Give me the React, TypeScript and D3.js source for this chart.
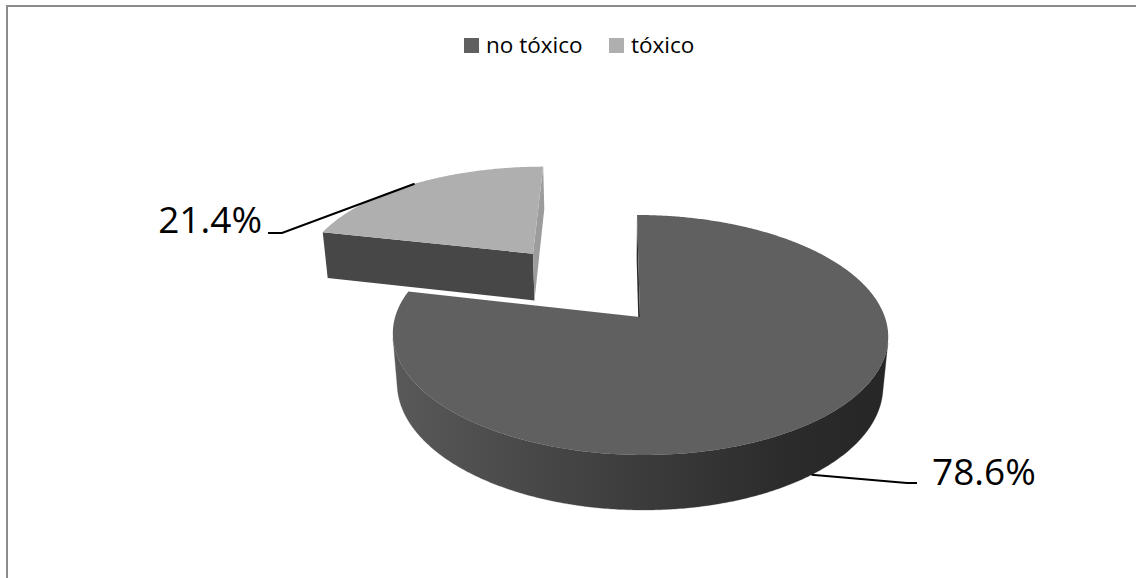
import React from "react";
import * as d3 from "d3";

// Chart data
const categories = ["no tóxico", "tóxico"];
const shares = [78.6, 21.4];
const valueLabels = ["78.6%", "21.4%"];
const sliceColors = ["#606060", "#afafaf"];
const explodeBy = [0, 0.75];

const W = 1136;
const H = 578;

// Simple perspective camera for the 3‑D pie (unit radius, y up, z away from viewer)
const CX = 640;
const CY = 317;
const SIN_E = 0.479;
const COS_E = Math.sqrt(1 - SIN_E * SIN_E);
const DIST = 5.86;
const FOCAL = 1435;
const CAM_X = 0.094;
const THICK = 0.235;

type P2 = [number, number];

function project(x: number, y: number, z: number): P2 {
  const yc = y * COS_E + z * SIN_E;
  const zc = -y * SIN_E + z * COS_E;
  const k = FOCAL / (DIST + zc);
  return [CX - (FOCAL * CAM_X) / DIST + (x + CAM_X) * k, CY - yc * k];
}

function depthOf(x: number, y: number, z: number) {
  return -y * SIN_E + z * COS_E;
}

function signedArea(pts: P2[]) {
  let s = 0;
  for (let i = 0; i < pts.length; i++) {
    const a = pts[i];
    const b = pts[(i + 1) % pts.length];
    s += a[0] * b[1] - b[0] * a[1];
  }
  return s / 2;
}

const line = d3.line<P2>();
const closed = (pts: P2[]) => (line(pts) || "") + "Z";

// Per-slice face shading
const faceStyles = [
  { wall: "url(#wallShadeMain)", startFace: "#2a2a2a", endFace: "#3a3a3a" },
  { wall: "#6e6e6e", startFace: "#474747", endFace: "#9c9c9c" },
];

// Leader / label layout
const labelLayout = [
  { level: -THICK, elbow: [907, 483] as P2, end: [917, 483] as P2, tx: 932, ty: 485, anchor: "start" },
  { level: 0, elbow: [282, 233] as P2, end: [268, 233] as P2, tx: 262, ty: 233, anchor: "end" },
];

const legendLayout = { x: [464, 609], y: 38, box: 15, gap: 7, baseline: 53 };

const FONT = "'Open Sans', 'DejaVu Sans', sans-serif";

export default function App() {
  const pie = d3
    .pie<number>()
    .sort(null)
    .startAngle(0)
    .endAngle(2 * Math.PI)
    .value((d) => d);
  const arcs = pie(shares);
  const step = (0.5 * Math.PI) / 180;

  const slices = arcs.map((a, i) => {
    const a0 = a.startAngle;
    const a1 = a.endAngle;
    const mid = (a0 + a1) / 2;
    const e = explodeBy[i];
    const ox = e * Math.sin(mid);
    const oz = e * Math.cos(mid);
    const rim = (t: number, y: number): P2 => project(ox + Math.sin(t), y, oz + Math.cos(t));
    const n = Math.max(2, Math.ceil((a1 - a0) / step));
    const ts = d3.range(n + 1).map((k) => a0 + ((a1 - a0) * k) / n);

    // top face
    const topPts: P2[] = [project(ox, 0, oz), ...ts.map((t) => rim(t, 0))];

    // visible runs of the outer wall
    const runs: number[][] = [];
    let cur: number[] | null = null;
    for (let k = 0; k < n; k++) {
      const quad: P2[] = [rim(ts[k], 0), rim(ts[k + 1], 0), rim(ts[k + 1], -THICK), rim(ts[k], -THICK)];
      const vis = signedArea(quad) < 0;
      if (vis) {
        if (!cur) {
          cur = [k];
          runs.push(cur);
        }
        cur.push(k + 1);
      } else cur = null;
    }
    const wallPaths = runs.map((r) => {
      const top = r.map((k) => rim(ts[k], 0));
      const bot = r.slice().reverse().map((k) => rim(ts[k], -THICK));
      return closed([...top, ...bot]);
    });

    // radial cut faces
    const cT = project(ox, 0, oz);
    const cB = project(ox, -THICK, oz);
    const startFace: P2[] = [cT, rim(a0, 0), rim(a0, -THICK), cB];
    const endFace: P2[] = [rim(a1, 0), cT, cB, rim(a1, -THICK)];
    const faces: { d: string; fill: string }[] = [];
    if (signedArea(startFace) < 0) faces.push({ d: closed(startFace), fill: faceStyles[i].startFace });
    if (signedArea(endFace) < 0) faces.push({ d: closed(endFace), fill: faceStyles[i].endFace });

    const lay = labelLayout[i];
    const anchorPt = rim(mid, lay.level);

    const xs = ts.map((t) => rim(t, 0)[0]);
    return {
      i,
      depth: depthOf(ox, 0, oz),
      top: closed(topPts),
      wallPaths,
      faces,
      anchorPt,
      xMin: d3.min(xs) as number,
      xMax: d3.max(xs) as number,
    };
  });

  const main = slices[0];
  const order = slices.slice().sort((a, b) => b.depth - a.depth);

  return (
    <svg
      width={W}
      height={H}
      viewBox={`0 0 ${W} ${H}`}
      style={{ position: "absolute", left: 0, top: 0, display: "block", background: "#fff" }}
    >
      <defs>
        <linearGradient id="wallShadeMain" gradientUnits="userSpaceOnUse" x1={main.xMin} x2={main.xMax} y1={0} y2={0}>
          <stop offset="0" stopColor="#595959" />
          <stop offset="0.3" stopColor="#474747" />
          <stop offset="0.55" stopColor="#393939" />
          <stop offset="0.8" stopColor="#2b2b2b" />
          <stop offset="1" stopColor="#262626" />
        </linearGradient>
      </defs>

      <rect x={0} y={0} width={W} height={H} fill="#fff" />
      <rect x={7} y={6} width={W + 20} height={H + 20} fill="none" stroke="#8c8c8c" strokeWidth={2} />

      {/* legend */}
      {categories.map((c, i) => (
        <g key={c}>
          <rect
            x={legendLayout.x[i]}
            y={legendLayout.y}
            width={legendLayout.box}
            height={legendLayout.box}
            fill={sliceColors[i]}
          />
          <text
            x={legendLayout.x[i] + legendLayout.box + legendLayout.gap}
            y={legendLayout.baseline}
            fontFamily={FONT}
            fontSize={22.5}
            fill="#000"
          >
            {c}
          </text>
        </g>
      ))}

      {/* pie slices, back to front */}
      {order.map((s) => (
        <g key={s.i}>
          {s.wallPaths.map((d, k) => (
            <path key={k} d={d} fill={faceStyles[s.i].wall} stroke={faceStyles[s.i].wall} strokeWidth={0.3} />
          ))}
          {s.faces.map((f, k) => (
            <path key={"f" + k} d={f.d} fill={f.fill} />
          ))}
          <path d={s.top} fill={sliceColors[s.i]} />
        </g>
      ))}

      {/* data labels with leader lines */}
      {slices.map((s) => {
        const lay = labelLayout[s.i];
        return (
          <g key={"l" + s.i}>
            <polyline
              points={[s.anchorPt, lay.elbow, lay.end].map((p) => p.join(",")).join(" ")}
              fill="none"
              stroke="#000"
              strokeWidth={2}
            />
            <text
              x={lay.tx}
              y={lay.ty}
              textAnchor={lay.anchor as any}
              fontFamily={FONT}
              fontSize={37}
              fill="#000"
            >
              {valueLabels[s.i]}
            </text>
          </g>
        );
      })}
    </svg>
  );
}
